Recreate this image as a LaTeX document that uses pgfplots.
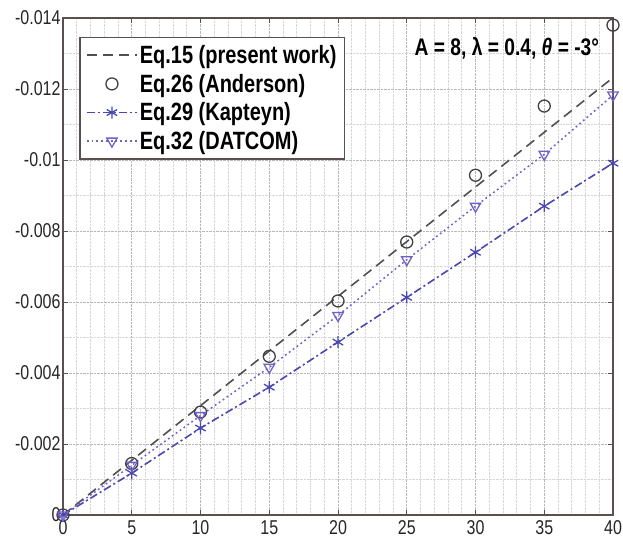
\documentclass[border=0pt]{standalone}
\usepackage{pgfplots}
\pgfplotsset{compat=1.18}
\usepackage{fontspec}
\setmainfont{Liberation Sans}[FakeStretch=0.8]
\definecolor{frame}{HTML}{5A5050}
\definecolor{eqa}{HTML}{505050}
\definecolor{eqb}{HTML}{404040}
\definecolor{eqc}{HTML}{4A48B0}
\definecolor{eqd}{HTML}{7060C8}
\begin{document}
\begin{tikzpicture}
\useasboundingbox (-63pt,-32pt) rectangle (560pt,515pt);
\begin{axis}[
  at={(0,0)}, anchor=south west,
  scale only axis, width=550pt, height=497pt,
  xmin=0, xmax=40, ymin=-0.014, ymax=0,
  y dir=reverse,
  xtick={0,5,...,40},
  ytick={-0.014,-0.012,-0.01,-0.008,-0.006,-0.004,-0.002,0},
  yticklabels={-0.014,-0.012,-0.01,-0.008,-0.006,-0.004,-0.002,0},
  scaled y ticks=false,
  minor x tick num=4, minor y tick num=1,
  grid=both,
  major grid style={densely dotted, color=black!28, line width=0.8pt},
  minor grid style={densely dotted, color=black!16, line width=0.7pt},
  axis line style={frame, line width=1.6pt},
  tick style={frame, line width=1pt},
  major tick length=5pt, minor tick length=0pt,
  tick align=inside,
  xtick pos=both, ytick pos=both,
  /pgf/number format/assume math mode=true,
  tick label style={font=\fontsize{20}{22}\selectfont, color=black!85},
  yticklabel style={xshift=1pt},
  xticklabel style={yshift=-2pt},
  legend style={at={(rel axis cs:0.03,0.962)}, anchor=north west, draw=frame, line width=1.2pt,
    font=\fontsize{25}{28}\selectfont\bfseries, row sep=5pt, inner xsep=6pt, inner ysep=6pt,
    cells={anchor=west}},
  legend cell align=left,
  legend image code/.code={\draw[mark repeat=2,mark phase=2] plot coordinates {(0cm,0cm)(0.88cm,0cm)(1.76cm,0cm)};},
]
\addplot[eqa, line width=1.6pt, dash pattern=on 10pt off 6pt] coordinates {(0,0)(5,-0.00154)(10,-0.00308)(15,-0.00462)(20,-0.00616)(25,-0.0077)(30,-0.00924)(35,-0.01078)(40,-0.01232)};
\addlegendentry{Eq.15 (present work)}
\addplot[eqb, only marks, mark=o, mark size=6pt, line width=1.3pt] coordinates {(0,0)(5,-0.00145)(10,-0.0029)(15,-0.00447)(20,-0.00603)(25,-0.00769)(30,-0.00957)(35,-0.01152)(40,-0.0138)};
\addlegendentry{Eq.26 (Anderson)}
\addplot[eqc, line width=1.6pt, dash pattern=on 8pt off 3pt on 2pt off 3pt, mark=asterisk, mark size=6pt, mark options={solid, line width=1.3pt}] coordinates {(0,0)(5,-0.00118)(10,-0.00245)(15,-0.0036)(20,-0.00487)(25,-0.00613)(30,-0.0074)(35,-0.0087)(40,-0.00991)};
\addlegendentry{Eq.29 (Kapteyn)}
\addplot[eqd, line width=1.5pt, dash pattern=on 1.8pt off 3pt, mark=triangle, mark size=6pt, mark options={solid, rotate=180, line width=1.3pt}] coordinates {(0,0)(5,-0.0014)(10,-0.0028)(15,-0.00416)(20,-0.00562)(25,-0.00719)(30,-0.0087)(35,-0.01016)(40,-0.01183)};
\addlegendentry{Eq.32 (DATCOM)}
\node[anchor=north east, font=\fontsize{24}{26}\selectfont\bfseries, inner sep=0pt] at (rel axis cs:0.975,0.962) {A = 8, λ = 0.4, \textit{θ} = -3°};
\end{axis}
\end{tikzpicture}
\end{document}
